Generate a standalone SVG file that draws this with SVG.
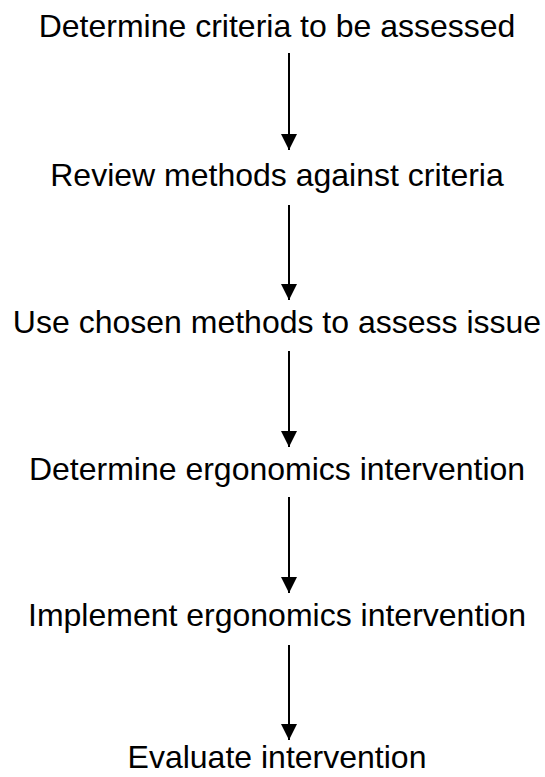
<svg xmlns="http://www.w3.org/2000/svg" width="545" height="777" viewBox="0 0 545 777">
<style>
.t{font-family:"Liberation Sans",Arial,sans-serif;font-size:32px;fill:#000;text-anchor:middle}
.c{stroke:#000;stroke-width:2;fill:none}
</style>
<defs>
<marker id="ah" markerWidth="8" markerHeight="8" refX="8" refY="4" orient="auto" markerUnits="strokeWidth">
<path d="M0,0 L8,4 L0,8 Z" fill="#000"/>
</marker>
</defs>
<rect width="545" height="777" fill="#fff"/>
<g id="connectors">
<line class="c" x1="289" y1="53" x2="289" y2="150" marker-end="url(#ah)"/>
<line class="c" x1="289" y1="205" x2="289" y2="300" marker-end="url(#ah)"/>
<line class="c" x1="289" y1="351" x2="289" y2="447" marker-end="url(#ah)"/>
<line class="c" x1="289" y1="497" x2="289" y2="593" marker-end="url(#ah)"/>
<line class="c" x1="289" y1="645" x2="289" y2="740" marker-end="url(#ah)"/>
</g>
<g id="n1"><text class="t" x="277" y="37">Determine criteria to be assessed</text></g>
<g id="n2"><text class="t" x="277" y="186">Review methods against criteria</text></g>
<g id="n3"><text class="t" x="277" y="333">Use chosen methods to assess issue</text></g>
<g id="n4"><text class="t" x="277" y="480">Determine ergonomics intervention</text></g>
<g id="n5"><text class="t" x="277" y="626">Implement ergonomics intervention</text></g>
<g id="n6"><text class="t" x="277" y="768">Evaluate intervention</text></g>
</svg>
